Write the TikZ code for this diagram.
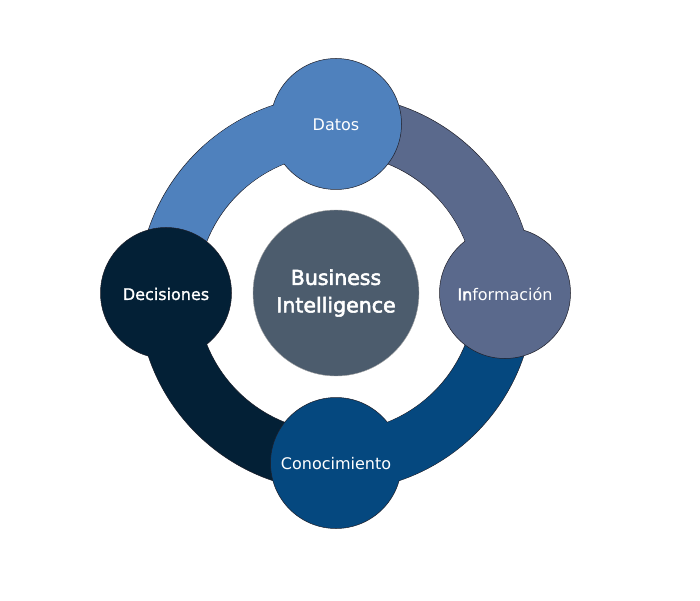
\documentclass[tikz,border=0pt]{standalone}
\usepackage{fontspec}
\setmainfont{DejaVu Sans}
\newfontfamily\semifont{DejaVu Sans}[BoldFont={DejaVu Sans}, BoldFeatures={FakeBold=2.6}]
\newfontfamily\lightbold{DejaVu Sans}[BoldFont={DejaVu Sans}, BoldFeatures={FakeBold=1.2}]
\begin{document}
\begin{tikzpicture}[x=1pt,y=1pt]
  \definecolor{cDatos}{RGB}{79,129,189}
  \definecolor{cInfo}{RGB}{90,105,140}
  \definecolor{cCono}{RGB}{5,72,127}
  \definecolor{cDeci}{RGB}{3,32,54}
  \definecolor{cCore}{RGB}{76,92,109}
  \definecolor{cEdge}{RGB}{30,30,40}
  \tikzset{
    outer/.style={circle, inner sep=0pt, minimum size=131pt, draw=cEdge, line width=0.5pt},
    core/.style={circle, inner sep=0pt, minimum size=166pt, draw=gray!70, line width=0.4pt,
                 fill=cCore, text=white, align=center,
                 font=\semifont\bfseries\fontsize{20.5}{27.5}\selectfont},
    lbl/.style={text=white, font=\fontsize{16}{18}\selectfont},
    segedge/.style={draw=cEdge, line width=0.5pt}
  }
  \useasboundingbox (0,0) rectangle (700,600);
  \coordinate (c) at (336,307);
  \def\rin{139}
  \def\rout{198}
  % one quarter of the ring between angles #2 and #3, radii #4 and #5
  \newcommand\ringpart[5]{%
    \path[#1] ([shift={(c)}]#2:#5) arc[start angle=#2, end angle=#3, radius=#5]
      -- ([shift={(c)}]#3:#4) arc[start angle=#3, end angle=#2, radius=#4] -- cycle;}
  % ring quarters, each running counter-clockwise from its own circle
  \ringpart{segedge, fill=cDatos}{90}{180}{\rin}{\rout}
  \ringpart{segedge, fill=cInfo}{0}{90}{\rin}{\rout}
  \ringpart{segedge, fill=cCono}{-90}{0}{\rin}{\rout}
  \ringpart{segedge, fill=cDeci}{180}{270}{\rin}{\rout}
  % the four outer circles
  \node[outer, fill=cDatos] (datos) at (336,476) {};
  \node[outer, fill=cInfo]  (info)  at (505,307) {};
  \node[outer, fill=cCono]  (cono)  at (336,137) {};
  \node[outer, fill=cDeci]  (deci)  at (166,307) {};
  % merge each circle with the start of its own ring quarter
  \ringpart{fill=cDatos}{90}{132}{\rin+0.45}{\rout-0.45}
  \ringpart{fill=cInfo}{0}{42}{\rin+0.45}{\rout-0.45}
  \ringpart{fill=cCono}{-90}{-48}{\rin+0.45}{\rout-0.45}
  \ringpart{fill=cDeci}{180}{222}{\rin+0.45}{\rout-0.45}
  % labels
  \node[lbl] at ([yshift=-1pt]datos.center) {Datos};
  \node[lbl] at ([yshift=-1pt]info.center) {{\semifont\bfseries In}formación};
  \node[lbl] at ([yshift=-1pt]cono.center) {Conocimiento};
  \node[lbl, font=\lightbold\bfseries\fontsize{16}{18}\selectfont] at ([yshift=-1pt]deci.center) {Decisiones};
  % centre
  \node[core] (bi) at (c) {Business\\Intelligence};
\end{tikzpicture}
\end{document}
